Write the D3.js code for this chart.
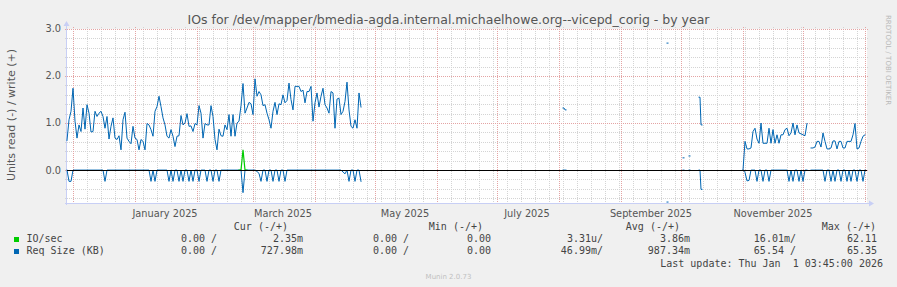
<!DOCTYPE html>
<html><head><meta charset="utf-8">
<script src="https://cdn.jsdelivr.net/npm/d3@7"></script>
<style>
html,body{margin:0;padding:0;background:#f0f0f0;}
svg{display:block;}
text{font-family:"DejaVu Sans",sans-serif;}
.mono{font-family:"DejaVu Sans Mono",monospace;white-space:pre;}
</style></head><body><svg id="c" width="897" height="287"></svg>
<script>
// ---------------- data ----------------
const windowStart = "2024-11-28";   // first day shown (400-day "by year" window)
const windowEnd   = "2026-01-02";
const yMin = -0.7, yMax = 3.0;
const yTickValues = [0, 1, 2, 3];
const yTickLabels = ["0.0", "1.0", "2.0", "3.0"];

// Req Size (KB) write (+), daily samples; run A starts at day 0
const reqWriteA = [
0.63,1.07,1.25,1.74,1.04,0.68,0.96,0.82,1.32,0.87,
1.39,1.21,0.81,0.82,1.25,1.14,1.21,1.25,1.14,0.89,
1.14,0.66,0.93,1.11,0.68,0.65,0.73,0.43,1.07,1.23,
0.68,0.61,0.56,0.93,0.68,0.65,0.43,0.65,0.61,0.43,
0.99,0.96,0.86,0.72,1.25,1.35,1.57,1.35,1.11,0.96,
0.72,0.68,0.86,0.72,0.50,0.72,0.73,1.16,0.96,1.00,
1.20,0.93,0.94,0.82,0.99,0.96,1.37,1.21,0.68,0.99,
0.96,0.96,1.37,1.14,0.65,0.43,0.87,0.73,0.72,0.96,
0.86,1.18,0.72,1.18,0.72,1.00,1.04,1.37,1.84,1.21,
1.32,1.44,1.41,1.18,1.94,1.57,1.67,1.60,1.37,1.39,
1.21,1.07,0.89,1.25,1.44,1.18,1.41,1.39,1.60,1.43,
1.48,1.85,1.50,1.28,1.78,1.78,1.78,1.67,1.70,1.43,
1.67,1.67,1.78,1.04,1.43,1.64,1.34,1.57,1.74,1.39,
1.32,1.21,1.67,1.64,0.89,1.51,1.53,1.18,1.25,1.46,
1.87,1.28,0.93,0.89,1.07,0.89,1.64,1.34];
// Req Size (KB) read (-), same days as run A
const reqReadA = [
0,0.24,0.24,0,0,0,0,0,0,0,
0,0,0,0,0,0,0,0,0,0.24,
0,0,0,0,0,0,0,0,0,0,
0,0,0,0,0,0,0,0,0,0,
0,0,0.24,0,0.24,0,0,0,0,0,
0,0.24,0,0.24,0,0,0.24,0,0.24,0,
0,0.24,0,0.24,0,0,0.24,0,0,0,
0.24,0,0,0.24,0,0,0.24,0,0,0,
0,0,0,0,0,0,0,0,0.48,0,
0,0,0,0,0,0.03,0.07,0.24,0,0,
0.24,0,0,0.24,0,0,0.24,0,0,0.24,
0,0,0,0,0,0,0,0,0,0,
0,0,0,0,0,0,0,0,0,0,
0,0,0,0,0,0,0,0,0.04,0.08,
0,0.24,0,0,0.24,0,0,0.24];

// isolated samples in the summer gap: [day, write, read]
const sparseDays  = [248, 249, 300, 308, 311, 316, 317];
const sparseWrite = [1.32, 1.28, 2.70, 0.26, 0.30, 1.55, 0.96];
const sparseRead  = [0, 0, 0.68, 0, 0, 0, 0.41];
const sparseRuns  = [[0,1],[2],[3],[4],[5,6]];   // which samples are consecutive

// run B starts at day 338 (1 Nov 2025); null = missing sample
const runBStart = 338;
const reqWriteB = [
0,0.61,0.45,0.45,0.47,0.82,0.89,0.66,0.57,1.00,
0.57,0.57,0.57,0.89,0.57,0.86,0.57,0.75,0.57,0.75,
0.75,0.86,0.89,0.73,0.79,1.00,0.75,0.96,0.79,0.77,
0.75,0.73,0.99,null,0.47,0.47,0.49,0.61,0.61,0.49,
0.79,0.61,0.45,0.45,0.47,0.62,0.62,0.45,0.61,0.61,
0.47,0.47,0.61,0.61,0.61,0.75,0.99,0.45,0.47,0.61,
0.72,0.75];
const reqReadB = [
0,0.05,0.23,0.22,0,0,0,0.24,0,0,
0.24,0,0,0.24,0,0,0,0,0,0,
0,0,0,0.24,0,0.24,0,0,0.24,0,
0.24,0,0,null,0,0,0,0,0,0,
0,0.24,0,0,0.24,0,0.24,0,0,0.24,
0,0,0.24,0,0.24,0,0,0.24,0,0,
0.24,0];

// IO/sec write (+): single burst (otherwise 0, under the zero rule)
const ioStart = 86;
const ioWrite = [0, 0, 0.43, 0, 0];

const title = "IOs for /dev/mapper/bmedia-agda.internal.michaelhowe.org--vicepd_corig - by year";
const yLabel = "Units read (-) / write (+)";
const legendHead = ["Cur (-/+)", "Min (-/+)", "Avg (-/+)", "Max (-/+)"];
const legendNames = ["IO/sec", "Req Size (KB)"];
const legendColors = ["#00cc00", "#0066b3"];
const legendValues = [
  ["0.00 /", "2.35m", "0.00 /", "0.00", "3.31u/", "3.86m", "16.01m/", "62.11"],
  ["0.00 /", "727.98m", "0.00 /", "0.00", "46.99m/", "987.34m", "65.54 /", "65.35"]
];
const lastUpdate = "Last update: Thu Jan  1 03:45:00 2026";
const footer = "Munin 2.0.73";
const watermark = "RRDTOOL / TOBI OETIKER";

// ---------------- drawing ----------------
const svg = d3.select("#c");
const L = 67, R = 867, T = 29, B = 203;
const t0 = d3.utcParse("%Y-%m-%d")(windowStart), t1 = d3.utcParse("%Y-%m-%d")(windowEnd);
const x = d3.scaleUtc().domain([t0, t1]).range([L, R]);
const y = d3.scaleLinear().domain([yMin, yMax]).range([B, T]);
const day = i => d3.utcDay.offset(t0, i);

svg.append("rect").attr("width", 897).attr("height", 287).attr("fill", "#f0f0f0");
svg.append("rect").attr("x", L).attr("y", T).attr("width", R - L).attr("height", B - T).attr("fill", "#fff");

const grid = svg.append("g").attr("shape-rendering", "crispEdges");
// minor horizontal grid (0.2)
const minorY = d3.range(-6, 31, 2).map(v => v / 10).filter(v => Math.abs(v - Math.round(v)) > 1e-6);
grid.selectAll(".hy").data(minorY).join("line")
  .attr("x1", L - 2).attr("x2", R + 2).attr("y1", d => Math.round(y(d)) + 0.5).attr("y2", d => Math.round(y(d)) + 0.5)
  .attr("stroke", "#d4d4d4").attr("stroke-dasharray", "1,1");
// minor vertical grid (weeks)
const weeks = d3.utcSunday.range(t0, t1);
grid.selectAll(".wx").data(weeks).join("line")
  .attr("x1", d => Math.round(x(d)) + 0.5).attr("x2", d => Math.round(x(d)) + 0.5).attr("y1", T - 2).attr("y2", B + 2)
  .attr("stroke", "#d4d4d4").attr("stroke-dasharray", "1,1");
// major grid
grid.selectAll(".my").data(yTickValues).join("line")
  .attr("x1", L - 2).attr("x2", R + 2).attr("y1", d => Math.round(y(d)) + 0.5).attr("y2", d => Math.round(y(d)) + 0.5)
  .attr("stroke", "#e4a4a4").attr("stroke-dasharray", "1,1");
const months = d3.utcMonth.range(t0, t1);
grid.selectAll(".mx").data(months).join("line")
  .attr("x1", d => Math.round(x(d)) + 0.5).attr("x2", d => Math.round(x(d)) + 0.5).attr("y1", T - 2).attr("y2", B + 2)
  .attr("stroke", "#e4a4a4").attr("stroke-dasharray", "1,1");

// axes
const axisColor = "#c8cff5";
svg.append("line").attr("x1", L - 0.5).attr("x2", L - 0.5).attr("y1", B + 2).attr("y2", T - 4).attr("stroke", axisColor);
svg.append("line").attr("x1", L - 2).attr("x2", R + 3).attr("y1", B + 0.5).attr("y2", B + 0.5).attr("stroke", axisColor);
svg.append("path").attr("d", `M${L - 3.5},${T - 3}L${L + 2.5},${T - 3}L${L - 0.5},${T - 8}Z`).attr("fill", axisColor);
svg.append("path").attr("d", `M${R + 2},${B - 2.5}L${R + 2},${B + 3.5}L${R + 7},${B + 0.5}Z`).attr("fill", axisColor);

// y tick labels
svg.selectAll(".yl").data(yTickValues).join("text")
  .attr("x", L - 6).attr("y", d => y(d)).attr("dy", "0.35em").attr("text-anchor", "end")
  .attr("font-size", "9.8px").attr("fill", "#555").text((d, i) => yTickLabels[i]);
// x month labels (every second month, centred on mid-month, whole month inside window)
const labelMonths = months.filter(m => m.getUTCMonth() % 2 === 0 && d3.utcMonth.offset(m, 1) <= t1);
svg.selectAll(".xl").data(labelMonths).join("text")
  .attr("x", d => x(d3.utcDay.offset(d, 15))).attr("y", B + 14).attr("text-anchor", "middle")
  .attr("font-size", "9.8px").attr("fill", "#555").text(d3.utcFormat("%B %Y"));

// series lines
function pts(startDay, vals, sign) {          // one vertex per daily sample
  return vals.map((v, i) => ({t: day(startDay + i), v: v == null ? null : sign * v}));
}
function ptsPair(startDay, vals, sign) {      // lone samples: span their two pixel columns
  const out = [];
  vals.forEach((v, i) => {
    const d = day(startDay + i);
    out.push({t: d, v: sign * v});
    out.push({t: d3.utcHour.offset(d, 12), v: sign * v});
  });
  return out;
}
const line = d3.line().defined(d => d.v != null).x(d => x(d.t)).y(d => y(d.v));
const series = svg.append("g").attr("fill", "none").attr("stroke-width", 1).attr("stroke-linecap", "square");
const blue = "#0066b3", green = "#00cc00";
series.append("path").attr("d", line(pts(0, reqWriteA, 1))).attr("stroke", blue);
series.append("path").attr("d", line(pts(0, reqReadA, -1))).attr("stroke", blue);
series.append("path").attr("d", line(pts(runBStart, reqWriteB, 1))).attr("stroke", blue);
series.append("path").attr("d", line(pts(runBStart, reqReadB, -1))).attr("stroke", blue);
sparseRuns.forEach(run => {
  const w = run.map(k => sparseWrite[k]), r = run.map(k => sparseRead[k]);
  series.append("path").attr("d", line(ptsPair(sparseDays[run[0]], w, 1))).attr("stroke", blue);
  series.append("path").attr("d", line(ptsPair(sparseDays[run[0]], r, -1))).attr("stroke", blue);
});
series.append("path").attr("d", line(pts(ioStart, ioWrite, 1))).attr("stroke", green).attr("stroke-width", 1.2);

// zero rule
svg.append("line").attr("x1", L).attr("x2", R).attr("y1", Math.round(y(0)) + 0.5).attr("y2", Math.round(y(0)) + 0.5)
  .attr("stroke", "#000").attr("shape-rendering", "crispEdges");

// title, labels
svg.append("text").attr("x", 448.5).attr("y", 24).attr("text-anchor", "middle").attr("font-size", "12.5px").attr("fill", "#555").text(title);
svg.append("text").attr("transform", `translate(15,${(T + B) / 2 - 1}) rotate(-90)`).attr("text-anchor", "middle")
  .attr("font-size", "11px").attr("fill", "#555").text(yLabel);
svg.append("text").attr("transform", "translate(886,15) rotate(90)").attr("text-anchor", "start")
  .attr("font-size", "7px").attr("fill", "#b8b8b8").text(watermark);

// legend
const lg = svg.append("g").attr("class", "mono").attr("font-size", "10px").attr("fill", "#444");
const headEnds = [288, 483, 680, 876];
legendHead.forEach((h, i) => lg.append("text").attr("class", "mono").attr("x", headEnds[i]).attr("y", 230).attr("text-anchor", "end").text(h));
const colEnds = [217, 303, 409, 491, 603, 690, 796, 877];
legendNames.forEach((n, r) => {
  const yy = 242 + r * 12;
  svg.append("rect").attr("x", 14).attr("y", yy - 5).attr("width", 5).attr("height", 5).attr("fill", legendColors[r]);
  lg.append("text").attr("class", "mono").attr("x", 26.5).attr("y", yy).text(n);
  legendValues[r].forEach((v, c) => lg.append("text").attr("class", "mono").attr("x", colEnds[c]).attr("y", yy).attr("text-anchor", "end").text(v));
});
lg.append("text").attr("class", "mono").attr("x", 883).attr("y", 266.5).attr("text-anchor", "end").text(lastUpdate);
svg.append("text").attr("x", 448.5).attr("y", 279).attr("text-anchor", "middle").attr("font-size", "7px").attr("fill", "#c0c0c0").text(footer);
</script></body></html>
